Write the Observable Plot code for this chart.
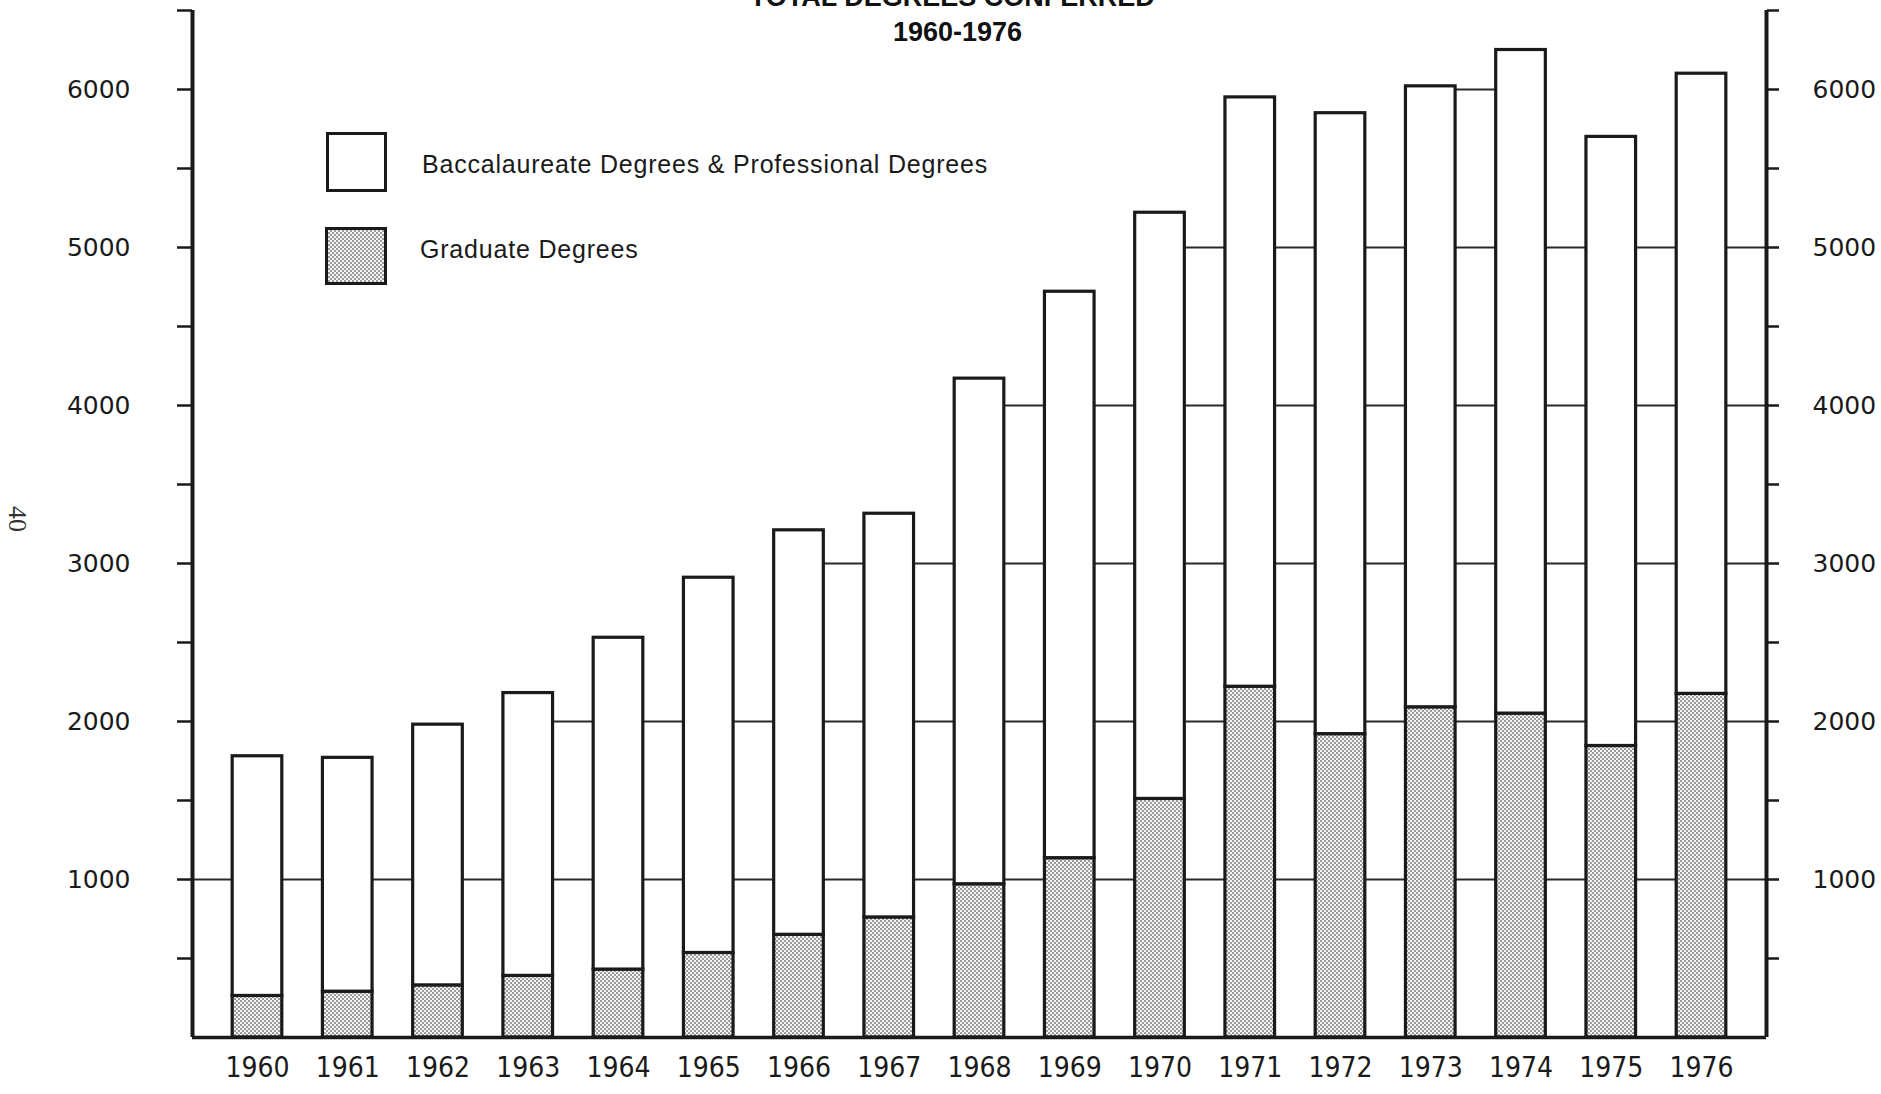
<!DOCTYPE html>
<html><head><meta charset="utf-8">
<script src="https://cdn.jsdelivr.net/npm/d3@7"></script>
<script src="https://cdn.jsdelivr.net/npm/@observablehq/plot@0.6"></script>
<style>
html,body{margin:0;padding:0;background:#fff;}
#wrap{position:relative;width:1881px;height:1094px;overflow:hidden;background:#fff;}
#chart{position:absolute;left:0;top:0;}
.ttl{position:absolute;left:17px;width:1881px;top:-20px;text-align:center;font-family:"Liberation Sans",Arial,sans-serif;font-weight:bold;font-size:27px;line-height:35px;color:#111;}
.lbox{position:absolute;box-sizing:border-box;border:3.5px solid #1a1a1a;background:#fff;}
.ltxt{position:absolute;font-family:"Liberation Sans",Arial,sans-serif;font-size:25px;line-height:25px;letter-spacing:0.8px;color:#1a1a1a;white-space:nowrap;}
.dots{background-color:#f4f4f4;background-image:conic-gradient(#9c9c9c 25%,transparent 0 50%,#9c9c9c 0 75%,transparent 0);background-size:4px 4px;}
.pg{position:absolute;left:4px;top:504px;font-family:"Liberation Serif",serif;font-size:26px;color:#333;transform:rotate(90deg);}
#chart svg g[aria-label="x-axis tick label"] text{font-stretch:condensed;}
</style></head>
<body><div id="wrap"><div id="chart"></div>
<div class="ttl" id="title"></div>
<div class="lbox" style="left:326px;top:132px;width:61px;height:60px;"></div>
<div class="lbox dots" style="left:325px;top:227px;width:62px;height:58px;"></div>
<div class="ltxt" id="leg1" style="left:422px;top:152px;"></div>
<div class="ltxt" id="leg2" style="left:420px;top:237px;"></div>
<div class="pg">40</div>
</div>
<script>
const titleLines = ["TOTAL DEGREES CONFERRED*", "1960-1976"];
const years = [1960,1961,1962,1963,1964,1965,1966,1967,1968,1969,1970,1971,1972,1973,1974,1975,1976];
const totalDegrees = [1780,1770,1980,2180,2530,2910,3210,3315,4170,4720,5220,5950,5850,6020,6250,5700,6100];
const graduateDegrees = [263,290,330,390,430,535,650,760,970,1135,1510,2220,1920,2090,2050,1845,2175];
const seriesNames = ["Baccalaureate Degrees & Professional Degrees", "Graduate Degrees"];
const yTicks = [500,1000,1500,2000,2500,3000,3500,4000,4500,5000,5500,6000,6500];
const yLabels = [1000,2000,3000,4000,5000,6000];
const gridLevels = [1000,2000,3000,4000,5000,6000];

document.getElementById("title").innerHTML = titleLines.join("<br>");
document.getElementById("leg1").textContent = seriesNames[0];
document.getElementById("leg2").textContent = seriesNames[1];

const xDomain = [1959.28, 1976.72];
const yDomain = [0, 6500];
const barHalf = 0.275;
const data = years.map((year, i) => ({year, total: totalDegrees[i], grad: graduateDegrees[i]}));

// grid segments only show in gaps whose two neighbours (bars or axes) rise above the level
const axisHeight = d3.max(gridLevels);
const pts = [{x: xDomain[0], h: axisHeight}, ...data.map(d => ({x: d.year, h: d.total})), {x: xDomain[1], h: axisHeight}];
const grid = [];
for (const L of gridLevels) {
  for (let i = 0; i < pts.length - 1; i++) {
    if (pts[i].h > L && pts[i + 1].h > L) grid.push({level: L, x1: pts[i].x, x2: pts[i + 1].x});
  }
}

const defs = () => {
  const g = d3.create("svg:defs");
  const p = g.append("pattern").attr("id", "dots").attr("width", 4).attr("height", 4).attr("patternUnits", "userSpaceOnUse");
  p.append("rect").attr("width", 4).attr("height", 4).attr("fill", "#f4f4f4");
  p.append("rect").attr("width", 2).attr("height", 2).attr("fill", "#9c9c9c");
  p.append("rect").attr("x", 2).attr("y", 2).attr("width", 2).attr("height", 2).attr("fill", "#9c9c9c");
  return g.node();
};

const ink = "#1a1a1a";
const yearFont = "'Liberation Sans Narrow','DejaVu Sans Condensed','Roboto Condensed','Liberation Sans',Arial,sans-serif";
const chart = Plot.plot({
  width: 1881, height: 1094,
  marginLeft: 192, marginRight: 115, marginTop: 10, marginBottom: 57,
  x: {type: "linear", domain: xDomain},
  y: {domain: yDomain},
  style: {background: "transparent", color: ink, fontFamily: "DejaVu Sans", fontSize: "25px"},
  marks: [
    defs,
    Plot.ruleY(grid, {y: "level", x1: "x1", x2: "x2", stroke: "#2a2a2a", strokeWidth: 2}),
    Plot.rect(data, {x1: d => d.year - barHalf, x2: d => d.year + barHalf, y1: 0, y2: "grad", fill: "url(#dots)", stroke: ink, strokeWidth: 3.2}),
    Plot.rect(data, {x1: d => d.year - barHalf, x2: d => d.year + barHalf, y1: "grad", y2: "total", fill: "white", stroke: ink, strokeWidth: 3.2}),
    Plot.ruleX(xDomain, {stroke: ink, strokeWidth: 4}),
    Plot.ruleY([0], {stroke: ink, strokeWidth: 3.5}),
    Plot.axisY({anchor: "left", ticks: yTicks, tickSize: 15, tickPadding: 47, strokeWidth: 2.5,
      tickFormat: d => yLabels.includes(d) ? String(d) : "", label: null, fontSize: 25, fontFamily: "DejaVu Sans"}),
    Plot.axisY({anchor: "right", ticks: yTicks, tickSize: 12, tickPadding: 34, strokeWidth: 2.5,
      tickFormat: d => yLabels.includes(d) ? String(d) : "", label: null, fontSize: 25, fontFamily: "DejaVu Sans"}),
    Plot.axisX({ticks: years, tickSize: 0, tickPadding: 20, tickFormat: d => String(d), label: null,
      fontSize: 28, fontFamily: yearFont})
  ]
});
document.getElementById("chart").appendChild(chart);
</script>
</body></html>
